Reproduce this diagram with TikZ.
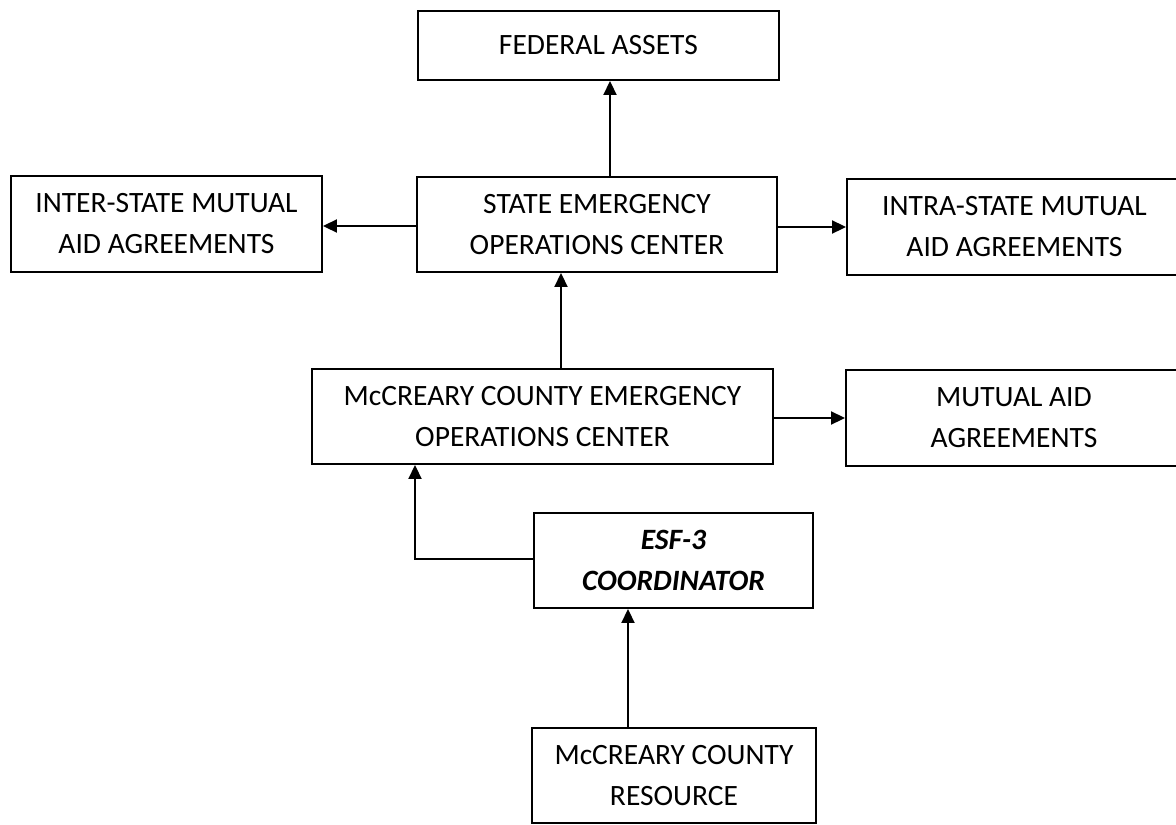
\documentclass[tikz,border=0pt]{standalone}
\usepackage{fontspec}
\setmainfont{Carlito}
\usetikzlibrary{arrows.meta}
\begin{document}
\begin{tikzpicture}[x=1pt,y=-1pt,
  box/.style={draw, line width=1.9pt, inner sep=0pt, align=center,
    font=\fontsize{29.5}{41}\selectfont},
  conn/.style={line width=1.9pt, -{Triangle[length=14pt,width=13pt]}}]
\useasboundingbox (0,0) rectangle (1176,825);
\node[box, minimum width=361pt, minimum height=69pt] (fed) at (598.5,45.5) {FEDERAL ASSETS};
\node[box, minimum width=311pt, minimum height=96pt] (inter) at (166.5,224) {INTER-STATE MUTUAL\\AID AGREEMENTS};
\node[box, minimum width=360pt, minimum height=95pt] (state) at (597,224.5) {STATE EMERGENCY\\OPERATIONS CENTER};
\node[box, minimum width=335pt, minimum height=96pt] (intra) at (1014.5,227) {INTRA-STATE MUTUAL\\AID AGREEMENTS};
\node[box, minimum width=461pt, minimum height=95pt] (eoc) at (542.5,416.5) {McCREARY COUNTY EMERGENCY\\OPERATIONS CENTER};
\node[box, minimum width=336pt, minimum height=96pt] (mutual) at (1014,418) {MUTUAL AID\\AGREEMENTS};
\node[box, minimum width=279pt, minimum height=95pt, font=\fontsize{29.5}{41}\selectfont\bfseries\itshape] (esf) at (673.5,560.5) {ESF-3\\COORDINATOR};
\node[box, minimum width=284pt, minimum height=95pt] (res) at (674,775.5) {McCREARY COUNTY\\RESOURCE};
\coordinate (xfed) at (610,0);
\coordinate (xstate) at (561,0);
\coordinate (xesf) at (628,0);
\coordinate (xeoc) at (415,0);
\coordinate (yleft) at (0,226);
\coordinate (yright) at (0,227);
\coordinate (ymut) at (0,418);
\coordinate (yesf) at (0,559);
\draw[conn] (state.north -| xfed) -- (fed.south -| xfed);
\draw[conn] (state.west |- yleft) -- (inter.east |- yleft);
\draw[conn] (state.east |- yright) -- (intra.west |- yright);
\draw[conn] (eoc.north -| xstate) -- (state.south -| xstate);
\draw[conn] (eoc.east |- ymut) -- (mutual.west |- ymut);
\draw[conn] (esf.west |- yesf) -- (xeoc |- yesf) -- (eoc.south -| xeoc);
\draw[conn] (res.north -| xesf) -- (esf.south -| xesf);
\end{tikzpicture}
\end{document}
